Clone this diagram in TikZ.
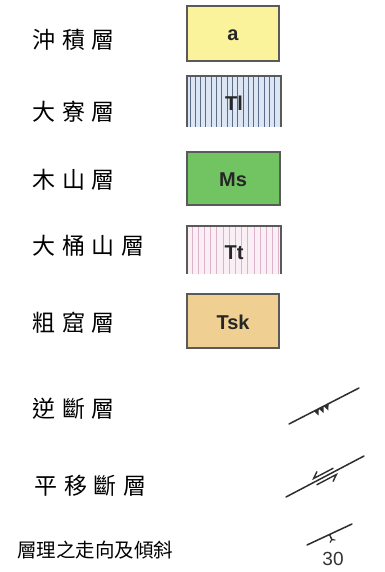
\documentclass[tikz,border=0pt]{standalone}
\usepackage{fontspec}
\setmainfont{Liberation Sans}
\newfontfamily\cjk[LetterSpace=30]{Noto Sans CJK TC}
\newfontfamily\cjkn{Noto Sans CJK TC}
\usetikzlibrary{calc}
\definecolor{bordc}{HTML}{5A5A5A}
\definecolor{ya}{HTML}{FBF39C}
\definecolor{tlbg}{HTML}{DCE5F4}
\definecolor{tlln}{HTML}{5C6B88}
\definecolor{msg}{HTML}{72C463}
\definecolor{ttbg}{HTML}{FBEFF6}
\definecolor{ttln}{HTML}{DDB3CB}
\definecolor{tskc}{HTML}{EFCF92}
\definecolor{ink}{HTML}{2E2E2E}
\tikzset{
  lab/.style={anchor=west, inner sep=0pt, font=\fontsize{23}{23}\selectfont\cjk},
  code/.style={inner sep=0pt, font=\fontsize{20}{20}\selectfont\bfseries, text=black!85},
  bord/.style={draw=bordc, line width=1.3pt},
  fault/.style={draw=ink, line width=1.5pt, line cap=round},
}
\begin{document}
\begin{tikzpicture}[x=1pt,y=-1pt]
\useasboundingbox (0,0) rectangle (384,572);
\fill[white] (0,0) rectangle (384,572);

% labels
\node[lab] (l1) at (32,40) {沖積層};
\node[lab] (l2) at (32,112) {大寮層};
\node[lab] (l3) at (32,180) {木山層};
\node[lab] (l4) at (32,246) {大桶山層};
\node[lab] (l5) at (32,323) {粗窟層};
\node[lab] (l6) at (32,409) {逆斷層};
\node[lab] (l7) at (34,486) {平移斷層};
\node[anchor=west, inner sep=0pt, font=\fontsize{19.5}{19.5}\selectfont\cjkn] (l8) at (17,550) {層理之走向及傾斜};

% a
\draw[bord, fill=ya] (187,6) rectangle (279,61);
\node[code] (a) at (233,35) {a};

% Tl (cut at bottom)
\fill[tlbg] (187,76) rectangle (281,127);
\begin{scope}
\clip (187,76) rectangle (281,127);
\foreach \i in {0,...,17} {\draw[tlln, line width=0.9pt] (190+5.3*\i,76) -- (190+5.3*\i,127);}
\end{scope}
\draw[bord] (187,127) -- (187,76) -- (281,76) -- (281,127);
\node[code] (tl) at (234,103) {Tl};

% Ms
\draw[bord, fill=msg] (187,152) rectangle (280,205);
\node[code] (ms) at (233,180) {Ms};

% Tt (cut at bottom)
\fill[ttbg] (187,226) rectangle (281,274);
\begin{scope}
\clip (187,226) rectangle (281,274);
\foreach \i in {0,...,15} {\draw[ttln, line width=0.7pt] (192+6.2*\i,226) -- (192+6.2*\i,274);}
\end{scope}
\draw[bord] (187,274) -- (187,226) -- (281,226) -- (281,274);
\node[code] (tt) at (234,253) {Tt};

% Tsk
\draw[bord, fill=tskc] (187,294) rectangle (279,348);
\node[code] (tsk) at (233,322) {Tsk};

% reverse fault
\coordinate (rf1) at (289,424);
\coordinate (rf2) at (359,388);
\draw[fault] (rf1) -- (rf2);
\begin{scope}[shift={($(rf1)!0.47!(rf2)$)}, rotate=27.2]
\foreach \t in {-9,-3.5,2} {\fill[ink] (\t,0) -- (\t+5.5,0) -- (\t+2.2,6) -- cycle;}
\end{scope}

% strike-slip fault
\coordinate (sf1) at (286,497);
\coordinate (sf2) at (364,456);
\draw[fault] (sf1) -- (sf2);
\begin{scope}[shift={($(sf1)!0.5!(sf2)$)}, rotate=27.7]
\draw[ink, line width=1.4pt, line cap=round] (11,-3.5) -- (-11,-3.5) -- (-5,-8);
\draw[ink, line width=1.4pt, line cap=round] (-11,3.5) -- (11,3.5) -- (5,8);
\end{scope}

% strike and dip
\coordinate (sd1) at (307,545);
\coordinate (sd2) at (352,524);
\draw[fault] (sd1) -- (sd2);
\coordinate (sdm) at ($(sd1)!0.5!(sd2)$);
\begin{scope}[shift={(sdm)}, rotate=25]
\draw[ink, line width=1.4pt] (0,0) -- (0,6.5);
\draw[ink, line width=1.1pt] (-3,7.5) -- (0,5.5) -- (3,7.5);
\end{scope}
\node[inner sep=0pt, font=\fontsize{19}{19}\selectfont, text=black!80] (dip) at (333,559) {30};
\end{tikzpicture}
\end{document}
